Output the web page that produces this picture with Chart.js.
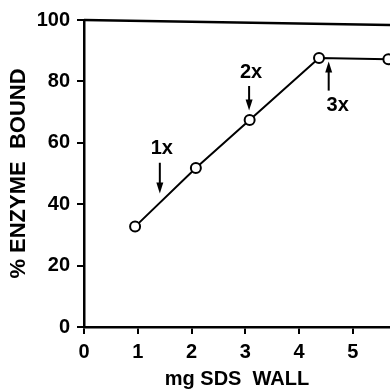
<!DOCTYPE html>
<html>
<head>
<meta charset="utf-8">
<script src="https://cdn.jsdelivr.net/npm/chart.js@4/dist/chart.umd.min.js"></script>
<style>
    html, body { margin: 0; padding: 0; background: #fff; }
    #wrap { width: 390px; height: 389px; }
</style>
</head>
<body>
<div id="wrap"><canvas id="chart"></canvas></div>
<script>
// mg SDS wall vs % enzyme bound
const sdsWall = [0.95, 2.08, 3.08, 4.37, 5.66];
const enzymeBound = [32.7, 51.8, 67.4, 87.6, 87.2];

const yTicks = [0, 20, 40, 60, 80, 100];
const xTicks = [0, 1, 2, 3, 4, 5];

// arrow marks on the curve: label, x, tail value, tip value
const arrowLabels = ['1x', '2x', '3x'];
const arrowX = [1.41, 3.07, 4.55];
const arrowFrom = [53.5, 78.5, 77.0];
const arrowTo = [43.5, 70.5, 86.5];

const FONT = "'Liberation Sans', Arial, sans-serif";

Chart.defaults.font.family = FONT;
Chart.defaults.color = '#000';

const arrows = {
    id: 'arrows',
    afterDatasetsDraw (chart) {
        const { ctx, scales: { x, y }, chartArea } = chart;
        ctx.save();

        // frame line on top
        ctx.strokeStyle = '#000';
        ctx.lineWidth = 2.5;
        ctx.beginPath();
        ctx.moveTo(chartArea.left, chartArea.top);
        ctx.lineTo(chartArea.right, chartArea.top + 5);
        ctx.stroke();

        ctx.fillStyle = '#000';
        ctx.lineWidth = 2;
        ctx.font = 'bold 20px ' + FONT;
        ctx.textAlign = 'center';

        arrowLabels.forEach((label, i) => {
            const px = x.getPixelForValue(arrowX[i]);
            const y0 = y.getPixelForValue(arrowFrom[i]);
            const y1 = y.getPixelForValue(arrowTo[i]);
            const dir = y1 > y0 ? 1 : -1;

            ctx.beginPath();
            ctx.moveTo(px, y0);
            ctx.lineTo(px, y1 - dir * 8);
            ctx.stroke();

            ctx.beginPath();
            ctx.moveTo(px, y1);
            ctx.lineTo(px - 3.5, y1 - dir * 11);
            ctx.lineTo(px + 3.5, y1 - dir * 11);
            ctx.closePath();
            ctx.fill();

            if (dir > 0) {
                ctx.textBaseline = 'bottom';
                ctx.fillText(label, px + 2, y0 - 4);
            } else {
                ctx.textBaseline = 'top';
                ctx.fillText(label, px + 9, y0 + 5);
            }
        });

        ctx.restore();
    }
};

new Chart(document.getElementById('chart'), {
    type: 'line',
    data: {
        datasets: [{
            data: sdsWall.map((v, i) => ({ x: v, y: enzymeBound[i] })),
            borderColor: '#000',
            borderWidth: 2,
            pointRadius: 5,
            pointBorderWidth: 2,
            pointBackgroundColor: '#fff',
            pointBorderColor: '#000',
            tension: 0,
            clip: false
        }]
    },
    options: {
        responsive: true,
        maintainAspectRatio: false,
        animation: false,
        layout: { autoPadding: false, padding: { top: 20, right: 0, bottom: 0, left: 0 } },
        plugins: {
            legend: { display: false },
            tooltip: { enabled: false }
        },
        scales: {
            x: {
                type: 'linear',
                min: 0,
                max: 5.69,
                afterBuildTicks: s => { s.ticks = xTicks.map(v => ({ value: v })); },
                afterFit: s => { s.height = 62; s.paddingRight = 0; s.paddingLeft = 0; },
                grid: { display: true, drawOnChartArea: false, drawTicks: true, tickLength: 7, color: '#000', lineWidth: 2 },
                border: { display: true, color: '#000', width: 2.5 },
                ticks: { padding: 6, font: { size: 20, weight: 'bold' }, color: '#000', maxRotation: 0 },
                title: {
                    display: true,
                    text: 'mg SDS  WALL',
                    font: { size: 20, weight: 'bold', lineHeight: 1 },
                    padding: { top: 0, bottom: 0 },
                    color: '#000'
                }
            },
            y: {
                min: 0,
                max: 100,
                afterBuildTicks: s => { s.ticks = yTicks.map(v => ({ value: v })); },
                afterFit: s => { s.width = 84; s.paddingTop = 0; s.paddingBottom = 0; },
                grid: { display: true, drawOnChartArea: false, drawTicks: true, tickLength: 7, color: '#000', lineWidth: 2 },
                border: { display: true, color: '#000', width: 2.5 },
                ticks: { padding: 7, font: { size: 20, weight: 'bold' }, color: '#000' },
                title: {
                    display: true,
                    text: '% ENZYME  BOUND',
                    font: { size: 22, weight: 'bold', lineHeight: 1 },
                    padding: { top: 8, bottom: 0 },
                    color: '#000'
                }
            }
        }
    },
    plugins: [arrows]
});
</script>
</body>
</html>
